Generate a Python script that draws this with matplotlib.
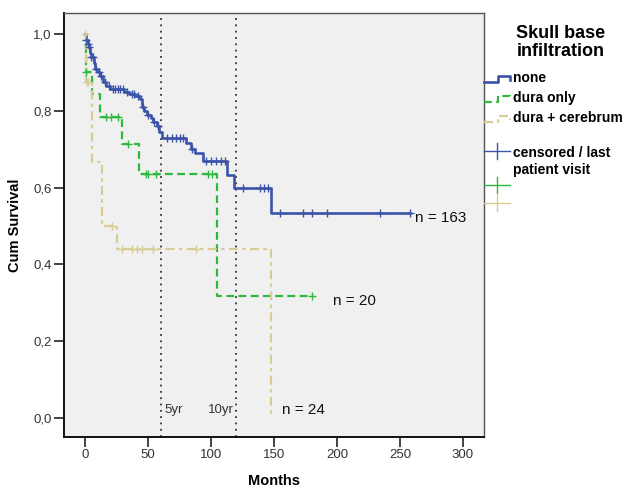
import numpy as np
import matplotlib
matplotlib.use("Agg")
import matplotlib.pyplot as plt
from matplotlib.lines import Line2D

plt.rcParams['font.family'] = ['Liberation Sans', 'DejaVu Sans']

# ====== Data ======
none_t = [0, 1, 2, 3, 4, 5, 7, 8, 10, 12, 14, 17, 20, 31, 35, 40, 44, 45, 47, 49,
          52, 54, 57, 59, 61, 80, 84, 87, 94, 113, 118, 148, 258]
none_s = [1.0, 0.985, 0.975, 0.965, 0.95, 0.94, 0.925, 0.91, 0.90, 0.89, 0.875,
          0.865, 0.857, 0.85, 0.845, 0.838, 0.83, 0.81, 0.80, 0.79, 0.78, 0.77,
          0.76, 0.745, 0.73, 0.715, 0.70, 0.69, 0.668, 0.633, 0.599, 0.534, 0.534]
none_cens = [1, 2, 3, 5, 6, 9, 11, 13, 16, 19, 22, 24, 26, 28, 30, 33, 37, 39, 42,
             46, 50, 55, 58, 65, 69, 72, 75, 78, 85, 96, 100, 104, 108, 111, 125,
             139, 142, 145, 155, 173, 180, 192, 234, 258]

dura_t = [0, 0.5, 5.5, 12, 29, 43, 105, 180]
dura_s = [1.0, 0.9, 0.845, 0.785, 0.713, 0.635, 0.317, 0.317]
dura_cens = [1, 17, 21, 26, 34, 48, 50, 56, 98, 101, 180]

cer_t = [0, 0.8, 5.5, 13.5, 25, 148]
cer_s = [1.0, 0.875, 0.667, 0.5, 0.44, 0.0]
cer_cens = [0, 1.2, 2.5, 21.5, 29, 37, 41, 45, 54, 88]

groups = ["none", "dura only", "dura + cerebrum"]
n_labels = ["n = 163", "n = 20", "n = 24"]
n_pos = [(262, 0.52), (197, 0.305), (156, 0.02)]

colors = ['#3b53a8', '#2fb83e', '#d6cc94']
BG = '#f0f0f0'


def surv_at(t, s, x):
    idx = np.searchsorted(np.asarray(t), np.asarray(x), side='right') - 1
    return np.asarray(s)[idx]


fig = plt.figure(figsize=(6.38, 4.88), dpi=100)
ax = fig.add_axes([64 / 638, 1 - 437 / 488, 420 / 638, 424 / 488])
ax.set_facecolor(BG)

# reference lines 5yr / 10yr
for xv, lbl, dx in [(60, "5yr", 3), (120, "10yr", -2)]:
    ax.axvline(xv, color='#333333', lw=1.3, dashes=[1, 2.5], zorder=1)
ax.text(63, 0.02, "5yr", fontsize=9.5, color='#333333', ha='left', va='center')
ax.text(118, 0.02, "10yr", fontsize=9.5, color='#333333', ha='right', va='center')

series = [(none_t, none_s, none_cens), (dura_t, dura_s, dura_cens),
          (cer_t, cer_s, cer_cens)]
styles = [dict(lw=1.9), dict(lw=1.6, dashes=[3.5, 2]),
          dict(lw=1.6, dashes=[4, 2, 1.5, 2])]

for (t, s, c), col, st in zip(series, colors, styles):
    ax.step(t, s, where='post', color=col, zorder=3, **st)
    ax.plot(c, surv_at(t, s, c), ls='none', marker='+', ms=6, mew=1.0,
            color=col, zorder=4)

for lbl, (x, y) in zip(n_labels, n_pos):
    ax.text(x, y, lbl, fontsize=11, color='#111111', ha='left', va='center')

ax.set_xlim(-16.7, 316.7)
ax.set_ylim(-0.0495, 1.0547)
ax.set_xticks([0, 50, 100, 150, 200, 250, 300])
ax.set_yticks([0, 0.2, 0.4, 0.6, 0.8, 1.0])
ax.set_yticklabels([f"{v:.1f}".replace('.', ',') for v in ax.get_yticks()])
ax.tick_params(direction='out', length=7, width=1.2, labelsize=9.5,
               labelcolor='#333333', color='#222222', pad=2)

for side in ['left', 'bottom']:
    ax.spines[side].set_color('#111111')
    ax.spines[side].set_linewidth(1.4)
for side in ['top', 'right']:
    ax.spines[side].set_color('#555555')
    ax.spines[side].set_linewidth(1.0)

ax.set_xlabel("Months", fontsize=10.5, fontweight='bold', labelpad=9)
ax.set_ylabel("Cum Survival", fontsize=10.5, fontweight='bold', labelpad=8)

# ====== Legend (drawn by hand, SPSS style) ======
def fx(px):
    return px / 638


def fy(py):
    return 1 - py / 488


fig.text(fx(561), fy(33), "Skull base", fontsize=13, fontweight='bold',
         ha='center', va='center')
fig.text(fx(561), fy(52), "infiltration", fontsize=13, fontweight='bold',
         ha='center', va='center')

leg_y = [78, 98, 118]
for name, col, st, yy in zip(groups, colors, styles, leg_y):
    xs = [484, 498, 498, 510, 510]
    ys = [yy + 3.5, yy + 3.5, yy - 2, yy - 2, yy + 2]
    fig.add_artist(Line2D([fx(v) for v in xs], [fy(v) for v in ys],
                          color=col, transform=fig.transFigure, **st))
    fig.text(fx(513), fy(yy), name, fontsize=10, fontweight='bold',
             ha='left', va='center')

for col, yy in zip(colors, [151, 185, 203]):
    fig.add_artist(Line2D([fx(484), fx(510)], [fy(yy), fy(yy)], color=col,
                          lw=1.0, transform=fig.transFigure))
    fig.add_artist(Line2D([fx(497), fx(497)], [fy(yy - 8), fy(yy + 8)],
                          color=col, lw=1.0, transform=fig.transFigure))
fig.text(fx(513), fy(153), "censored / last", fontsize=10, fontweight='bold',
         ha='left', va='center')
fig.text(fx(513), fy(170), "patient visit", fontsize=10, fontweight='bold',
         ha='left', va='center')

fig.savefig("out.png", dpi=100)
